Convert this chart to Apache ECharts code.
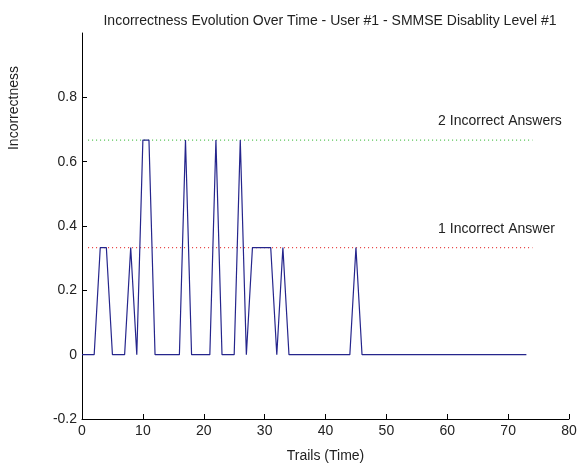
<!DOCTYPE html>
<html><head><meta charset="utf-8">
<script src="https://cdn.jsdelivr.net/npm/echarts@6/dist/echarts.min.js"></script>
<style>html,body{margin:0;padding:0;background:#fff}#c{width:587px;height:463px}</style>
</head><body><div id="c"></div>
<script>
const titleText = 'Incorrectness Evolution Over Time - User #1 - SMMSE Disablity Level #1';
const xName = 'Trails (Time)';
const yName = 'Incorrectness';
const trials = [0,1,2,3,4,5,6,7,8,9,10,11,12,13,14,15,16,17,18,19,20,21,22,23,24,25,26,27,28,29,30,31,32,33,34,35,36,37,38,39,40,41,42,43,44,45,46,47,48,49,50,51,52,53,54,55,56,57,58,59,60,61,62,63,64,65,66,67,68,69,70,71,72,73];
const incorrectness = [
  0,0,0,0.333,0.333,0,0,0,0.333,0,
  0.667,0.667,0,0,0,0,0,0.667,0,0,
  0,0,0.667,0,0,0,0.667,0,0.333,0.333,
  0.333,0.333,0,0.333,0,0,0,0,0,0,
  0,0,0,0,0,0.333,0,0,0,0,
  0,0,0,0,0,0,0,0,0,0,
  0,0,0,0,0,0,0,0,0,0,
  0,0,0,0
];
const yTicks = [-0.2, 0, 0.2, 0.4, 0.6, 0.8];
const xTicks = [0, 10, 20, 30, 40, 50, 60, 70, 80];
const thresholdSpan = [1, 74];
const oneWrongLevel = 0.333;
const twoWrongLevel = 0.667;
const oneWrongLabel = '1 Incorrect Answer';
const twoWrongLabel = '2 Incorrect Answers';
const labelX = 58.5;

const FONT = '"Liberation Sans", Arial, sans-serif';
const FS = 14;
const TXT = '#222222';
const chart = echarts.init(document.getElementById('c'), null, {renderer: 'canvas'});
chart.setOption({
  animation: false,
  backgroundColor: '#ffffff',
  textStyle: {fontFamily: FONT},
  title: {
    text: titleText, left: 325, top: 9, textAlign: 'center',
    textStyle: {fontFamily: FONT, fontSize: FS, fontWeight: 'normal', color: TXT}
  },
  grid: {left: 82, right: 18, top: 33, bottom: 44, containLabel: false, outerBoundsMode: 'none'},
  xAxis: {
    type: 'value', min: 0, max: 80, interval: 10,
    name: xName, nameLocation: 'middle', nameGap: 30,
    nameTextStyle: {fontFamily: FONT, fontSize: FS, color: TXT},
    axisLine: {onZero: false, lineStyle: {color: '#000', width: 1}},
    axisTick: {inside: true, length: 5, lineStyle: {color: '#000'}, customValues: xTicks},
    axisLabel: {margin: 5, fontFamily: FONT, fontSize: FS, color: TXT, customValues: xTicks},
    splitLine: {show: false}
  },
  yAxis: {
    type: 'value', min: -0.2, max: 1, interval: 0.2,
    axisLine: {show: true, onZero: false, lineStyle: {color: '#000', width: 1}},
    axisTick: {show: true, inside: true, length: 5, lineStyle: {color: '#000'}, customValues: yTicks},
    axisLabel: {margin: 5, fontFamily: FONT, fontSize: FS, color: TXT, customValues: yTicks,
      formatter: v => String(Math.round(v * 10) / 10)},
    splitLine: {show: false}
  },
  series: [
    {
      type: 'line', name: 'incorrectness', showSymbol: false, symbol: 'none',
      data: trials.map((t, i) => [t, incorrectness[i]]),
      lineStyle: {color: '#25258c', width: 1.2}, z: 3
    },
    {
      type: 'line', name: 'one', showSymbol: false, symbol: 'none',
      data: thresholdSpan.map(t => [t, oneWrongLevel]),
      lineStyle: {color: '#e63a3a', width: 1.2, type: [1, 3]}, z: 2
    },
    {
      type: 'line', name: 'two', showSymbol: false, symbol: 'none',
      data: thresholdSpan.map(t => [t, twoWrongLevel]),
      lineStyle: {color: '#4cc04c', width: 1.2, type: [1, 3]}, z: 2
    }
  ]
});
const p1 = chart.convertToPixel({gridIndex: 0}, [labelX, oneWrongLevel]);
const p2 = chart.convertToPixel({gridIndex: 0}, [labelX, twoWrongLevel]);
chart.setOption({
  graphic: [
    {type: 'text', x: p1[0], y: p1[1] - 18,
      style: {text: oneWrongLabel, font: FS + 'px ' + FONT, fill: TXT, verticalAlign: 'middle', align: 'left'}},
    {type: 'text', x: p2[0], y: p2[1] - 19,
      style: {text: twoWrongLabel, font: FS + 'px ' + FONT, fill: TXT, verticalAlign: 'middle', align: 'left'}},
    {type: 'text', x: 14, y: 108, rotation: Math.PI / 2,
      style: {text: yName, font: FS + 'px ' + FONT, fill: TXT, verticalAlign: 'middle', align: 'center'}}
  ]
});
</script></body></html>
